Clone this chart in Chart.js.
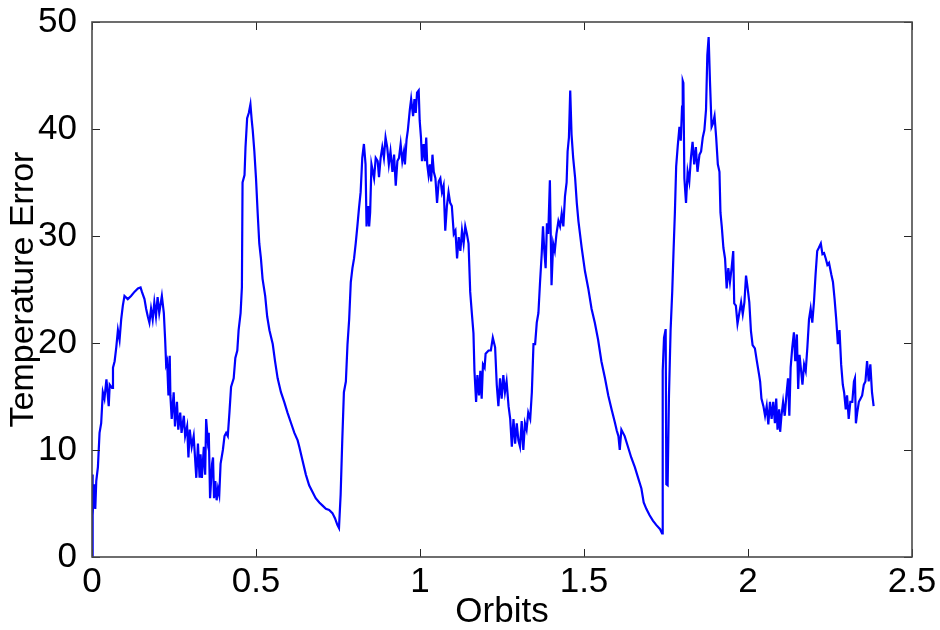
<!DOCTYPE html>
<html><head><meta charset="utf-8">
<script src="https://cdn.jsdelivr.net/npm/chart.js@4"></script>
<style>html,body{margin:0;padding:0;background:#fff}#wrap{width:940px;height:630px}</style>
</head><body><div id="wrap"><canvas id="c" width="940" height="630"></canvas></div>
<script>
const orbits = [0.000,0.001,0.003,0.006,0.010,0.013,0.018,0.023,0.028,0.033,0.038,0.044,0.051,0.054,0.061,0.064,0.069,0.074,0.079,0.084,0.089,0.094,0.099,0.109,0.119,0.130,0.140,0.148,0.152,0.160,0.165,0.170,0.175,0.180,0.185,0.190,0.195,0.200,0.205,0.213,0.219,0.223,0.226,0.229,0.233,0.237,0.239,0.243,0.249,0.253,0.259,0.263,0.269,0.273,0.280,0.284,0.290,0.294,0.298,0.304,0.310,0.318,0.323,0.328,0.331,0.335,0.341,0.345,0.348,0.353,0.356,0.360,0.366,0.369,0.372,0.376,0.380,0.384,0.388,0.392,0.399,0.404,0.409,0.414,0.419,0.424,0.432,0.437,0.443,0.447,0.453,0.457,0.459,0.465,0.468,0.473,0.478,0.483,0.487,0.490,0.495,0.500,0.505,0.510,0.515,0.520,0.528,0.534,0.541,0.551,0.558,0.566,0.576,0.586,0.596,0.607,0.617,0.627,0.632,0.642,0.652,0.662,0.672,0.682,0.693,0.703,0.713,0.723,0.733,0.741,0.748,0.753,0.758,0.763,0.768,0.774,0.779,0.784,0.789,0.794,0.799,0.804,0.809,0.814,0.819,0.824,0.829,0.834,0.837,0.842,0.845,0.848,0.852,0.860,0.865,0.871,0.875,0.880,0.885,0.890,0.895,0.900,0.905,0.910,0.916,0.921,0.926,0.931,0.936,0.941,0.946,0.951,0.954,0.959,0.963,0.969,0.973,0.979,0.983,0.987,0.991,0.996,0.999,1.003,1.006,1.011,1.015,1.019,1.022,1.026,1.030,1.034,1.038,1.042,1.047,1.052,1.057,1.062,1.067,1.072,1.077,1.082,1.087,1.092,1.097,1.103,1.108,1.113,1.118,1.123,1.128,1.133,1.138,1.143,1.148,1.153,1.158,1.163,1.166,1.171,1.175,1.180,1.184,1.188,1.192,1.197,1.200,1.209,1.216,1.222,1.229,1.234,1.239,1.244,1.249,1.254,1.259,1.264,1.270,1.275,1.280,1.285,1.290,1.295,1.300,1.305,1.310,1.315,1.320,1.325,1.330,1.336,1.341,1.346,1.351,1.356,1.361,1.366,1.371,1.375,1.379,1.383,1.387,1.391,1.396,1.401,1.406,1.411,1.416,1.422,1.427,1.432,1.437,1.442,1.447,1.450,1.454,1.458,1.462,1.467,1.473,1.478,1.483,1.493,1.503,1.513,1.523,1.533,1.543,1.553,1.564,1.574,1.584,1.594,1.600,1.605,1.609,1.614,1.624,1.634,1.644,1.655,1.665,1.675,1.682,1.690,1.700,1.710,1.720,1.732,1.738,1.740,1.744,1.749,1.751,1.755,1.759,1.764,1.769,1.773,1.777,1.781,1.786,1.791,1.795,1.799,1.801,1.803,1.806,1.811,1.816,1.821,1.826,1.831,1.836,1.841,1.846,1.852,1.857,1.862,1.867,1.872,1.876,1.880,1.884,1.889,1.893,1.898,1.903,1.908,1.913,1.916,1.920,1.925,1.930,1.935,1.940,1.945,1.950,1.955,1.958,1.963,1.968,1.973,1.979,1.984,1.989,1.994,1.999,2.004,2.009,2.014,2.021,2.027,2.034,2.037,2.041,2.047,2.052,2.057,2.062,2.067,2.072,2.077,2.082,2.086,2.090,2.095,2.098,2.102,2.107,2.112,2.117,2.122,2.126,2.130,2.135,2.140,2.144,2.149,2.153,2.157,2.161,2.166,2.171,2.176,2.181,2.186,2.191,2.196,2.201,2.206,2.211,2.216,2.222,2.227,2.232,2.237,2.242,2.247,2.254,2.259,2.264,2.269,2.274,2.279,2.284,2.289,2.293,2.298,2.302,2.307,2.312,2.318,2.323,2.326,2.329,2.333,2.338,2.343,2.348,2.353,2.358,2.363,2.368,2.373,2.378,2.383];
const tempError = [0,7.7,3.9,6.8,4.5,7.1,8.4,11.6,12.5,15.4,14.8,16.6,14.1,16.1,15.8,17.7,18.3,19.6,21.2,20.3,22.2,23.5,24.4,24.1,24.4,24.8,25.1,25.2,24.8,24.1,23.2,22.5,21.9,23.2,22.2,23.8,22.5,24.3,22.8,24.4,22.8,20.3,18.0,18.3,15.1,18.8,15.1,12.9,15.4,12.2,14.5,11.9,13.5,11.6,13.2,11.3,12.2,9.3,11.9,10.3,11.3,7.4,10.6,7.4,9.6,7.4,10.3,7.7,12.9,10.9,11.6,5.5,8.7,9.3,5.5,7.1,5.3,6.4,5.8,8.7,10.0,11.3,11.6,11.3,13.5,15.9,16.7,18.6,19.3,21.2,22.8,25.2,35.0,35.7,38.3,41.0,41.5,42.3,40.8,39.9,37.9,35.4,32.2,29.3,27.9,26.0,24.4,22.5,21.2,19.9,18.3,16.7,15.4,14.5,13.5,12.5,11.6,10.9,10.3,9.0,7.7,6.7,6.1,5.5,5.1,4.8,4.5,4.4,4.1,3.6,3.0,2.7,5.8,10.9,15.4,16.4,19.9,22.2,25.7,27.0,27.9,29.3,30.9,32.6,34.1,37.3,38.6,36.7,30.9,32.8,30.9,32.2,36.7,35.4,37.3,37.0,35.5,37.3,38.3,37.3,39.2,38.3,36.7,37.9,36.0,37.6,34.7,37.0,37.3,38.6,37.0,37.9,36.7,39.0,39.9,41.8,42.8,41.2,42.8,41.5,43.4,43.6,40.8,39.2,37.0,38.6,37.0,39.2,36.7,35.7,36.7,35.1,37.6,36.0,35.4,33.1,35.1,35.4,34.1,34.7,30.5,32.8,34.1,33.1,32.8,30.2,30.5,27.9,29.9,28.6,30.5,29.3,30.9,30.2,29.3,24.8,22.8,20.9,17.4,14.5,17.0,15.1,17.4,14.8,18.0,17.7,19.0,19.3,19.3,20.5,19.6,16.1,14.1,16.7,14.8,17.0,15.4,16.4,14.1,12.9,10.3,12.9,10.6,12.5,10.9,10.3,12.7,10.0,12.5,11.9,13.5,12.9,15.4,19.9,19.9,21.9,22.8,25.7,28.3,30.9,28.6,27.0,31.2,30.2,35.2,25.4,29.3,28.6,30.2,31.4,30.9,32.1,30.9,33.7,35.0,37.9,39.2,43.6,39.5,37.3,35.4,33.1,31.4,28.9,26.7,25.1,23.2,21.9,20.3,18.3,16.7,15.1,13.8,12.6,11.8,11.3,10.0,11.9,11.3,10.3,9.3,8.4,7.4,6.4,5.1,4.5,3.9,3.4,3.0,2.6,2.2,17.4,20.5,21.3,6.8,6.7,15.0,21.2,24.8,28.6,32.1,36.5,38.5,40.2,38.9,42.1,44.5,44.3,35.4,33.1,36.0,35.1,37.3,38.8,36.7,38.3,36.0,37.6,37.9,39.2,39.9,41.8,46.9,48.6,44.5,40.2,40.5,41.2,39.2,36.7,36.0,32.2,30.9,28.9,27.9,25.1,27.0,25.7,27.0,28.6,23.7,23.5,21.8,22.7,23.8,22.7,23.8,26.3,25.1,23.8,21.1,19.8,19.5,18.3,17.0,16.4,14.8,14.1,13.2,14.1,12.4,14.5,12.9,14.5,12.5,14.8,11.9,13.8,11.7,13.2,14.5,13.2,15.1,16.7,13.2,17.7,19.6,21.0,18.3,20.8,15.7,18.9,17.7,16.1,18.0,17.4,19.6,22.2,23.2,21.9,23.8,26.4,28.6,28.9,29.3,28.3,28.4,27.9,27.3,27.5,26.4,25.7,24.1,22.2,19.9,21.2,18.0,16.1,15.4,13.8,15.1,12.9,14.5,14.5,16.4,16.7,12.5,13.5,14.5,14.8,15.1,16.1,16.4,18.3,16.4,18.0,15.4,14.1];
const xTickValues = [0, 0.5, 1, 1.5, 2, 2.5];
const xTickLabels = ['0', '0.5', '1', '1.5', '2', '2.5'];
const yTickValues = [0, 10, 20, 30, 40, 50];
const yTickLabels = ['0', '10', '20', '30', '40', '50'];
const xTitle = 'Orbits';
const yTitle = 'Temperature Error';

const points = orbits.map((o, i) => ({ x: o, y: tempError[i] }));

const frame = {
  id: 'frame',
  afterDatasetsDraw(chart) {
    const { ctx, chartArea: a, scales: { x, y } } = chart;
    ctx.save();
    ctx.strokeStyle = '#262626';
    ctx.lineWidth = 1;
    const L = 8;
    ctx.beginPath();
    xTickValues.forEach(v => {
      const px = Math.round(x.getPixelForValue(v)) + 0.5;
      ctx.moveTo(px, a.bottom); ctx.lineTo(px, a.bottom - L);
      ctx.moveTo(px, a.top); ctx.lineTo(px, a.top + L);
    });
    yTickValues.forEach(v => {
      const py = Math.round(y.getPixelForValue(v)) + 0.5;
      ctx.moveTo(a.left, py); ctx.lineTo(a.left + L, py);
      ctx.moveTo(a.right, py); ctx.lineTo(a.right - L, py);
    });
    ctx.stroke();
    ctx.strokeStyle = '#4a4a4a';
    ctx.lineWidth = 1.6;
    ctx.strokeRect(a.left, a.top, a.right - a.left, a.bottom - a.top);
    ctx.restore();
  }
};

const fam = "'Liberation Sans', Arial, sans-serif";
const font = { family: fam, size: 35 };
new Chart(document.getElementById('c'), {
  type: 'line',
  data: { datasets: [{ data: points, borderColor: '#0000ff', borderWidth: 2.2, pointRadius: 0, tension: 0, fill: false }] },
  options: {
    responsive: false,
    animation: false,
    devicePixelRatio: 1,
    layout: { padding: { top: 22, right: 28, left: 0, bottom: 0 } },
    plugins: { legend: { display: false }, tooltip: { enabled: false } },
    scales: {
      x: {
        type: 'linear', min: 0, max: 2.5,
        afterFit: s => { s.height = 73; s.paddingLeft = 0; s.paddingRight = 0; },
        afterBuildTicks: s => { s.ticks = xTickValues.map(v => ({ value: v })); },
        grid: { display: false }, border: { display: false },
        ticks: { color: '#000', font, padding: -4, maxRotation: 0, autoSkip: false,
          callback: v => xTickLabels[xTickValues.indexOf(v)] },
        title: { display: true, text: xTitle, color: '#000', font: { family: fam, size: 35 }, padding: { top: 0, bottom: -3 } }
      },
      y: {
        type: 'linear', min: 0, max: 50,
        afterFit: s => { s.width = 92; s.paddingTop = 0; s.paddingBottom = 0; },
        afterBuildTicks: s => { s.ticks = yTickValues.map(v => ({ value: v })); },
        grid: { display: false }, border: { display: false },
        ticks: { color: '#000', font, padding: 7, autoSkip: false,
          callback: v => yTickLabels[yTickValues.indexOf(v)] },
        title: { display: true, text: yTitle, color: '#000', font: { family: fam, size: 34 }, padding: { top: 3, bottom: 0 } }
      }
    }
  },
  plugins: [frame]
});
</script>
</body></html>
